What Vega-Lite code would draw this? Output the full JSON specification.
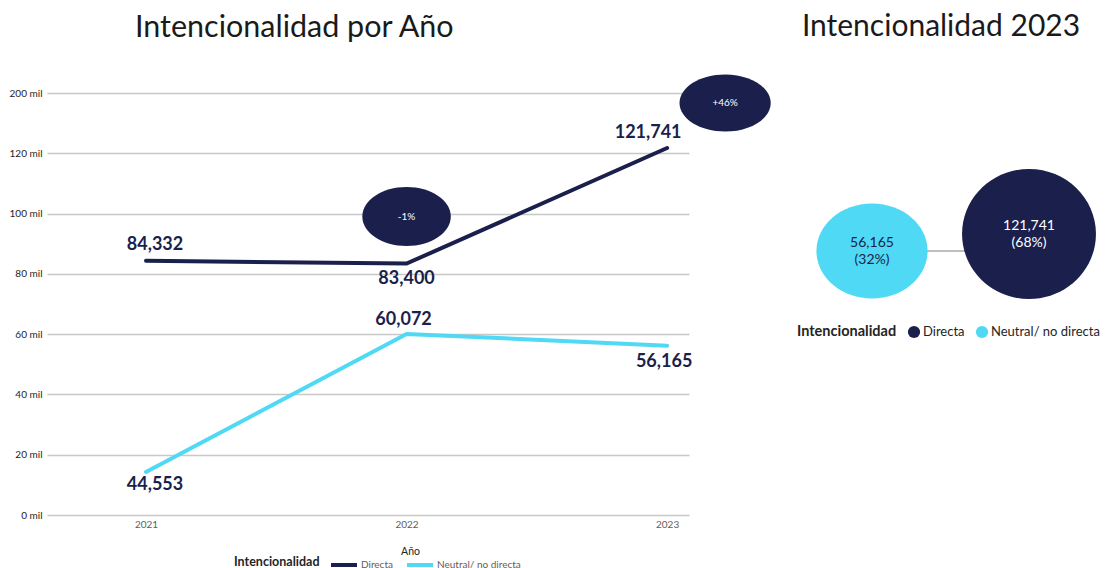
{
  "$schema": "https://vega.github.io/schema/vega-lite/v6.json",
  "padding": {"left": 9, "top": 12, "right": 0, "bottom": 0},
  "background": "white",
  "config": {
    "font": "Lato",
    "view": {"stroke": null},
    "title": {"font": "Lato", "fontSize": 30.5, "fontWeight": "normal", "color": "#1a1a1a"}
  },
  "datasets": {
    "series": [
      {"year": 2021, "cat": "Directa", "value": 84332, "label": "84,332"},
      {"year": 2022, "cat": "Directa", "value": 83400, "label": "83,400"},
      {"year": 2023, "cat": "Directa", "value": 121741, "label": "121,741"},
      {"year": 2021, "cat": "Neutral/ no directa", "value": 14300, "label": "44,553"},
      {"year": 2022, "cat": "Neutral/ no directa", "value": 60072, "label": "60,072"},
      {"year": 2023, "cat": "Neutral/ no directa", "value": 56165, "label": "56,165"}
    ],
    "changes": [
      {"year": 2022, "value": 83400, "change": "-1%"},
      {"year": 2023, "value": 121741, "change": "+46%"}
    ],
    "share2023": [
      {"cat": "Directa", "value": 121741, "share": "(68%)"},
      {"cat": "Neutral/ no directa", "value": 56165, "share": "(32%)"}
    ],
    "links": [
      {"source": "Neutral/ no directa", "target": "Directa"}
    ]
  },
  "spacing": 108,
  "bounds": "flush",
  "resolve": {
    "scale": {"color": "independent", "x": "independent", "y": "independent", "size": "independent", "shape": "independent"},
    "legend": {"color": "independent"}
  },
  "hconcat": [
    {
      "width": 642,
      "height": 422,
      "title": {"text": "Intencionalidad por Año", "anchor": "start", "frame": "group", "dx": 88, "offset": 31},
      "data": {"name": "series"},
      "encoding": {
        "x": {
          "field": "year", "type": "quantitative",
          "scale": {"domain": [2020.62, 2023.084], "nice": false, "zero": false},
          "axis": {"values": [2021, 2022, 2023], "format": "d", "grid": false, "domain": false, "ticks": false,
                   "labelPadding": 4, "labelFontSize": 10, "labelColor": "#605E5C",
                   "title": "Año", "titleFontSize": 10.5, "titleFontWeight": "normal", "titleColor": "#252423", "titlePadding": 17, "titleX": 363}
        },
        "y": {
          "field": "value", "type": "quantitative",
          "scale": {"domain": [0, 140000], "nice": false},
          "axis": {"values": [0, 20000, 40000, 60000, 80000, 100000, 120000, 140000],
                   "labelExpr": "datum.value == 140000 ? '200 mil' : format(datum.value / 1000, 'd') + ' mil'",
                   "grid": true, "gridColor": "#C8C8C8", "gridWidth": 1.5, "domain": false, "ticks": false,
                   "labelPadding": 5, "labelFontSize": 10, "labelColor": "#252423", "title": null}
        }
      },
      "layer": [
        {
          "mark": {"type": "line", "strokeWidth": 4, "strokeCap": "round"},
          "encoding": {
            "color": {
              "field": "cat", "type": "nominal",
              "scale": {"domain": ["Directa", "Neutral/ no directa"], "range": ["#1B1F4B", "#4FD9F4"]},
              "legend": {"title": "Intencionalidad", "orient": "none", "legendX": 187, "legendY": 457, "direction": "horizontal", "titleOrient": "left",
                         "titleAnchor": "middle", "titleBaseline": "middle",
                         "titleFontSize": 12.5, "titleFontWeight": "bold", "titleColor": "#252423",
                         "labelFontSize": 10, "labelColor": "#605E5C", "symbolType": "stroke", "symbolSize": 676,
                         "symbolStrokeWidth": 4, "columnPadding": 6, "labelOffset": 2, "titlePadding": 9}
            }
          }
        },
        {"transform": [{"filter": "datum.label === '84,332'"}],
         "mark": {"type": "text", "fontSize": 18, "fontWeight": "bold", "color": "#1B1F4B", "baseline": "middle", "dx": 9, "dy": -16},
         "encoding": {"text": {"field": "label"}}},
        {"transform": [{"filter": "datum.label === '83,400'"}],
         "mark": {"type": "text", "fontSize": 18, "fontWeight": "bold", "color": "#1B1F4B", "baseline": "middle", "dx": 0, "dy": 15},
         "encoding": {"text": {"field": "label"}}},
        {"transform": [{"filter": "datum.label === '121,741'"}],
         "mark": {"type": "text", "fontSize": 18, "fontWeight": "bold", "color": "#1B1F4B", "baseline": "middle", "dx": -19, "dy": -15},
         "encoding": {"text": {"field": "label"}}},
        {"transform": [{"filter": "datum.label === '44,553'"}],
         "mark": {"type": "text", "fontSize": 18, "fontWeight": "bold", "color": "#1B1F4B", "baseline": "middle", "dx": 9, "dy": 13},
         "encoding": {"text": {"field": "label"}}},
        {"transform": [{"filter": "datum.label === '60,072'"}],
         "mark": {"type": "text", "fontSize": 18, "fontWeight": "bold", "color": "#1B1F4B", "baseline": "middle", "dx": -3, "dy": -14},
         "encoding": {"text": {"field": "label"}}},
        {"transform": [{"filter": "datum.label === '56,165'"}],
         "mark": {"type": "text", "fontSize": 18, "fontWeight": "bold", "color": "#1B1F4B", "baseline": "middle", "dx": -3, "dy": 16},
         "encoding": {"text": {"field": "label"}}},
        {"data": {"name": "changes"},
         "transform": [{"filter": "datum.year == 2022"}],
         "mark": {"type": "point", "shape": "M-1.5,0A1.5,1,0,1,0,1.5,0A1.5,1,0,1,0,-1.5,0Z", "size": 3481, "filled": true, "opacity": 1, "color": "#1B1F4B", "yOffset": -47}},
        {"data": {"name": "changes"},
         "transform": [{"filter": "datum.year == 2022"}],
         "mark": {"type": "text", "fontSize": 10, "color": "white", "baseline": "middle", "dy": -47},
         "encoding": {"text": {"field": "change"}}},
        {"data": {"name": "changes"},
         "transform": [{"filter": "datum.year == 2023"}],
         "mark": {"type": "point", "shape": "M-1.6,0A1.6,1,0,1,0,1.6,0A1.6,1,0,1,0,-1.6,0Z", "size": 3249, "filled": true, "opacity": 1, "color": "#1B1F4B", "xOffset": 58, "yOffset": -45}},
        {"data": {"name": "changes"},
         "transform": [{"filter": "datum.year == 2023"}],
         "mark": {"type": "text", "fontSize": 10, "color": "white", "baseline": "middle", "dx": 58, "dy": -45},
         "encoding": {"text": {"field": "change"}}}
      ]
    },
    {
      "width": 300,
      "height": 215,
      "title": {"text": "Intencionalidad 2023", "anchor": "middle", "frame": "group", "dx": -6, "offset": 51, "fontSize": 30},
      "data": {"name": "share2023"},
      "layer": [
        {
          "data": {"name": "links"},
          "mark": {"type": "rule", "color": "#7F7F7F", "strokeWidth": 1},
          "encoding": {
            "x": {"field": "source", "type": "nominal", "scale": {"type": "point", "padding": 0, "domain": ["Neutral/ no directa", "Directa"], "range": [75, 232]}, "axis": null},
            "x2": {"field": "target"},
            "y": {"field": "source", "type": "nominal", "scale": {"type": "point", "padding": 0, "domain": ["Neutral/ no directa", "Directa"], "range": [158, 141]}, "axis": null}
          }
        },
        {
          "mark": {"type": "point", "filled": true, "opacity": 1},
          "encoding": {
            "x": {"field": "cat", "type": "nominal", "scale": {"type": "point", "padding": 0, "domain": ["Neutral/ no directa", "Directa"], "range": [75, 232]}, "axis": null},
            "y": {"field": "cat", "type": "nominal", "scale": {"type": "point", "padding": 0, "domain": ["Neutral/ no directa", "Directa"], "range": [158, 141]}, "axis": null},
            "color": {
              "field": "cat", "type": "nominal",
              "scale": {"domain": ["Directa", "Neutral/ no directa"], "range": ["#1B1F4B", "#4FD9F4"]},
              "legend": {"title": "Intencionalidad", "orient": "bottom", "direction": "horizontal", "titleOrient": "left",
                         "titleFontSize": 14.5, "titleFontWeight": "bold", "titleColor": "#252423",
                         "labelFontSize": 13, "labelColor": "#252423", "symbolType": "circle", "symbolSize": 150,
                         "offset": 17, "columnPadding": 10, "labelOffset": 2, "titlePadding": 10}
            },
            "size": {"field": "value", "type": "quantitative", "scale": {"type": "linear", "domain": [56165, 121741], "range": [9025, 16900]}, "legend": null},
            "shape": {"field": "cat", "type": "nominal",
                      "scale": {"domain": ["Neutral/ no directa", "Directa"],
                                "range": ["M-1.17,0A1.17,1,0,1,0,1.17,0A1.17,1,0,1,0,-1.17,0Z", "M-1.03,0A1.03,1,0,1,0,1.03,0A1.03,1,0,1,0,-1.03,0Z"]},
                      "legend": null}
          }
        },
        {
          "mark": {"type": "text", "fontSize": 14, "baseline": "middle", "dy": -8.5},
          "encoding": {
            "x": {"field": "cat", "type": "nominal"},
            "y": {"field": "cat", "type": "nominal"},
            "text": {"field": "value", "type": "quantitative", "format": ","},
            "color": {"condition": {"test": "datum.cat === 'Directa'", "value": "white"}, "value": "#1B1F4B"}
          }
        },
        {
          "mark": {"type": "text", "fontSize": 14, "baseline": "middle", "dy": 8.5},
          "encoding": {
            "x": {"field": "cat", "type": "nominal"},
            "y": {"field": "cat", "type": "nominal"},
            "text": {"field": "share"},
            "color": {"condition": {"test": "datum.cat === 'Directa'", "value": "white"}, "value": "#1B1F4B"}
          }
        }
      ]
    }
  ]
}
